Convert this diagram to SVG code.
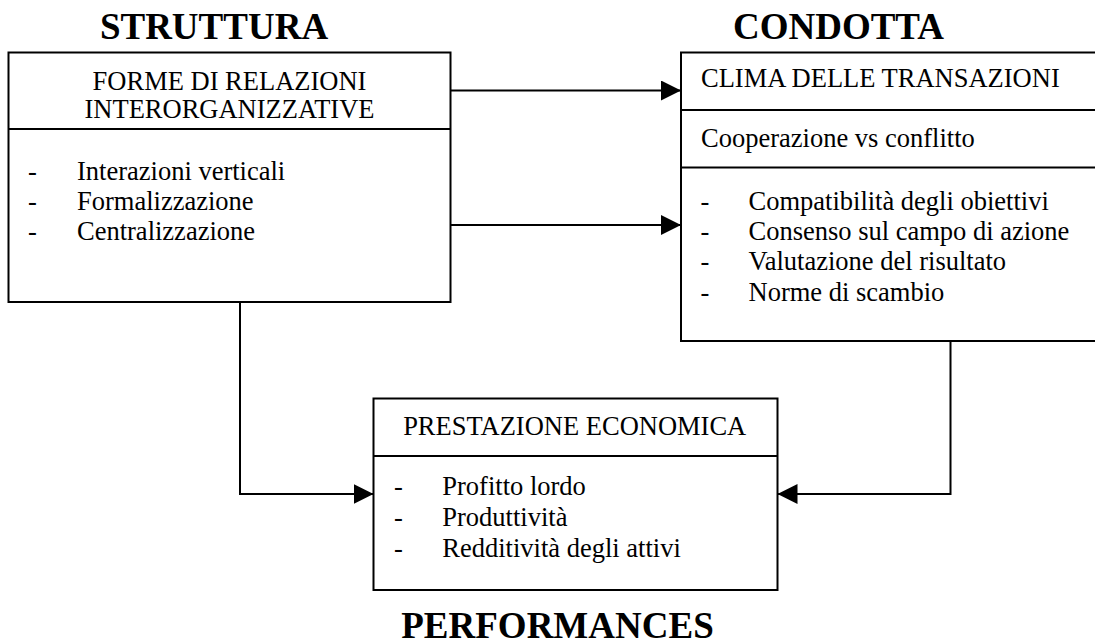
<svg xmlns="http://www.w3.org/2000/svg" width="1095" height="644" viewBox="0 0 1095 644">
  <style>
    .box { fill: #fff; stroke: #000; stroke-width: 2; }
    .rule { stroke: #000; stroke-width: 2; }
    .wire { fill: none; stroke: #000; stroke-width: 2; }
    .title { font-family: "Liberation Serif", Tinos, "Times New Roman", "DejaVu Serif", serif; font-weight: 700; font-size: 37px; fill: #000; text-anchor: middle; }
    .txt { font-family: "Liberation Serif", Tinos, "Times New Roman", "DejaVu Serif", serif; font-weight: 400; font-style: normal; font-size: 26.5px; fill: #000; }
    .mid { text-anchor: middle; }
  </style>
  <defs>
    <marker id="arrow" markerUnits="userSpaceOnUse" markerWidth="20" markerHeight="20" refX="20" refY="10" orient="auto">
      <path d="M0,0 L20,10 L0,20 Z" fill="#000"/>
    </marker>
  </defs>
  <rect width="1095" height="644" fill="#fff"/>

  <!-- section headings -->
  <text class="title" x="214" y="39">STRUTTURA</text>
  <text class="title" x="838.5" y="39">CONDOTTA</text>
  <text class="title" x="557.5" y="637.5">PERFORMANCES</text>

  <!-- connectors -->
  <g id="connectors">
    <path class="wire" d="M451,90.5 H681" marker-end="url(#arrow)"/>
    <path class="wire" d="M451,225 H681" marker-end="url(#arrow)"/>
    <path class="wire" d="M240,302 V494 H373.5" marker-end="url(#arrow)"/>
    <path class="wire" d="M950.5,341 V494 H777.5" marker-end="url(#arrow)"/>
  </g>

  <!-- structure: interorganisational relations -->
  <g id="struttura" font-family="Liberation Serif, serif">
    <rect class="box" x="8.5" y="52.5" width="442" height="249.5"/>
    <line class="rule" x1="8.5" y1="129" x2="450.5" y2="129"/>
    <text class="txt mid" x="229.5" y="90">FORME DI RELAZIONI</text>
    <text class="txt mid" x="229.5" y="117.5">INTERORGANIZZATIVE</text>
    <text class="txt" x="28" y="180">-</text>
    <text class="txt" x="77" y="180">Interazioni verticali</text>
    <text class="txt" x="28" y="210">-</text>
    <text class="txt" x="77" y="210">Formalizzazione</text>
    <text class="txt" x="28" y="239.5">-</text>
    <text class="txt" x="77" y="239.5">Centralizzazione</text>
  </g>

  <!-- conduct: transaction climate -->
  <g id="condotta">
    <rect class="box" x="681" y="52.5" width="430" height="288.5"/>
    <line class="rule" x1="681" y1="110" x2="1111" y2="110"/>
    <line class="rule" x1="681" y1="167.5" x2="1111" y2="167.5"/>
    <text class="txt" x="701" y="87">CLIMA DELLE TRANSAZIONI</text>
    <text class="txt" x="701" y="147">Cooperazione vs conflitto</text>
    <text class="txt" x="700.5" y="210">-</text>
    <text class="txt" x="748.5" y="210">Compatibilità degli obiettivi</text>
    <text class="txt" x="700.5" y="240">-</text>
    <text class="txt" x="748.5" y="240">Consenso sul campo di azione</text>
    <text class="txt" x="700.5" y="270">-</text>
    <text class="txt" x="748.5" y="270">Valutazione del risultato</text>
    <text class="txt" x="700.5" y="300.5">-</text>
    <text class="txt" x="748.5" y="300.5">Norme di scambio</text>
  </g>

  <!-- performance: economic results -->
  <g id="performances">
    <rect class="box" x="373.5" y="398.5" width="404" height="191.5"/>
    <line class="rule" x1="373.5" y1="456" x2="777.5" y2="456"/>
    <text class="txt mid" x="574.7" y="434.5">PRESTAZIONE ECONOMICA</text>
    <text class="txt" x="394" y="494.5">-</text>
    <text class="txt" x="442.3" y="494.5">Profitto lordo</text>
    <text class="txt" x="394" y="525.5">-</text>
    <text class="txt" x="442.3" y="525.5">Produttività</text>
    <text class="txt" x="394" y="556.5">-</text>
    <text class="txt" x="442.3" y="556.5">Redditività degli attivi</text>
  </g>
</svg>
